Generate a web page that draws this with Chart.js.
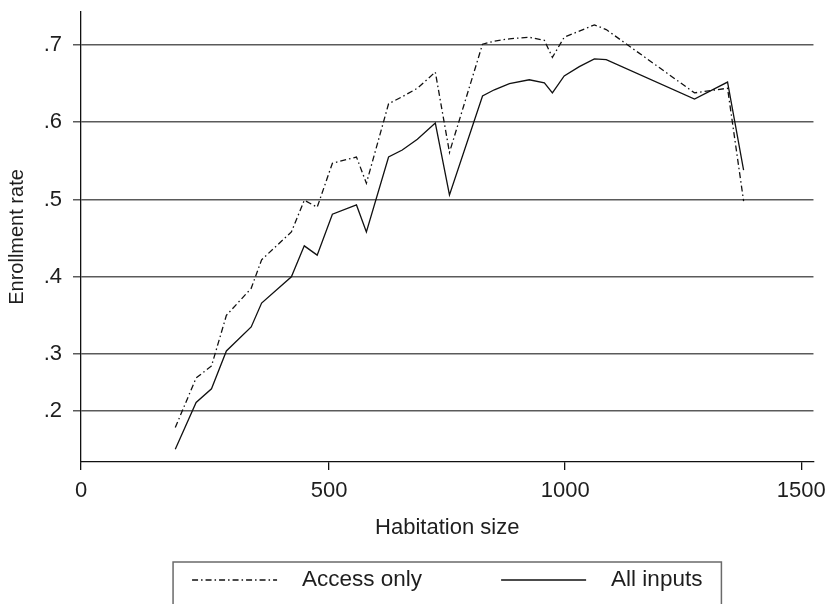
<!DOCTYPE html>
<html>
<head>
<meta charset="utf-8">
<script src="https://cdn.jsdelivr.net/npm/chart.js@4.4.1/dist/chart.umd.min.js"></script>
<style>
  html, body { margin: 0; padding: 0; background: #fff; }
  canvas { display: block; }
</style>
</head>
<body>
<canvas id="enrollChart" width="834" height="604"></canvas>
<script>
// habitation sizes where both curves are evaluated
const habitationSize = [190, 232, 263, 293, 343, 364, 424, 450, 476, 507, 558, 579, 626, 655, 687, 725, 755,
  825, 850, 882, 924, 956, 973, 998, 1030, 1062, 1087, 1274, 1344, 1378];
const accessOnly = [0.171, 0.258, 0.279, 0.350, 0.385, 0.422, 0.458, 0.499, 0.490, 0.547, 0.555, 0.521, 0.624, 0.633,
  0.644, 0.665, 0.561, 0.701, 0.705, 0.708, 0.710, 0.706, 0.684, 0.710, 0.718, 0.726, 0.720, 0.638, 0.644, 0.498];
const allInputs = [0.133, 0.215, 0.239, 0.304, 0.335, 0.366, 0.400, 0.440, 0.428, 0.481, 0.493, 0.458, 0.555, 0.564,
  0.578, 0.599, 0.506, 0.634, 0.642, 0.650, 0.655, 0.651, 0.638, 0.660, 0.672, 0.682, 0.681, 0.630, 0.652, 0.538];
const xTicks = [0, 500, 1000, 1500];
const yTicks = [0.2, 0.3, 0.4, 0.5, 0.6, 0.7];

const family = '"Liberation Sans", Arial, sans-serif';
const ink = '#1e1e1e';

// linear scale whose printed axis is stretched below a pivot value
class BentScale extends Chart.LinearScale {
  static id = 'bent';

  bend(v) {
    const { pivot, factor } = this.options.bend;
    return v >= pivot ? v : pivot - (pivot - v) * factor;
  }

  getPixelForValue(value) {
    const lo = this.bend(this.min);
    const hi = this.bend(this.max);
    return this.getPixelForDecimal((this.bend(value) - lo) / (hi - lo));
  }

  getValueForPixel(pixel) {
    const { pivot, factor } = this.options.bend;
    const lo = this.bend(this.min);
    const hi = this.bend(this.max);
    const b = lo + this.getDecimalForPixel(pixel) * (hi - lo);
    return b >= pivot ? b : pivot - (pivot - b) / factor;
  }
}
Chart.register(BentScale);

// legend drawn inside an open box under the axis title
const boxLegend = {
  id: 'boxLegend',
  afterDraw(chart, args, opts) {
    const { ctx, chartArea } = chart;
    ctx.save();
    ctx.font = `${opts.fontSize}px ${family}`;
    const items = chart.data.datasets.map(ds => ({ ds, w: ctx.measureText(ds.label).width }));
    const total = items.reduce((s, it) => s + opts.sample + opts.gap + it.w, 0) + opts.spacing * (items.length - 1);
    let x = (chartArea.left + chartArea.right) / 2 - total / 2;
    const cy = opts.top + opts.rowHeight / 2;

    ctx.strokeStyle = opts.borderColor;
    ctx.lineWidth = 1.5;
    ctx.strokeRect(x - opts.inset, opts.top, total + opts.inset * 2, chart.height);

    ctx.textBaseline = 'middle';
    ctx.fillStyle = ink;
    for (const it of items) {
      ctx.beginPath();
      ctx.setLineDash(it.ds.borderDash || []);
      ctx.strokeStyle = it.ds.borderColor;
      ctx.lineWidth = it.ds.borderWidth;
      ctx.moveTo(x, cy);
      ctx.lineTo(x + opts.sample, cy);
      ctx.stroke();
      ctx.fillText(it.ds.label, x + opts.sample + opts.gap, cy);
      x += opts.sample + opts.gap + it.w + opts.spacing;
    }
    ctx.restore();
  }
};

const ctx = document.getElementById('enrollChart').getContext('2d');
new Chart(ctx, {
  type: 'line',
  data: {
    datasets: [{
      label: 'Access only',
      data: habitationSize.map((h, i) => ({ x: h, y: accessOnly[i] })),
      borderColor: '#111',
      borderWidth: 1.3,
      borderDash: [6, 3, 1.5, 3]
    },
    {
      label: 'All inputs',
      data: habitationSize.map((h, i) => ({ x: h, y: allInputs[i] })),
      borderColor: '#111',
      borderWidth: 1.3
    }]
  },
  options: {
    responsive: false,
    animation: false,
    layout: { padding: { top: 12, right: 20, bottom: 58, left: 0 } },
    elements: { point: { radius: 0 }, line: { tension: 0 } },
    plugins: {
      legend: { display: false },
      tooltip: { enabled: false },
      boxLegend: {
        top: 562, rowHeight: 36, fontSize: 22.5,
        sample: 85, gap: 25, spacing: 79, inset: 19,
        borderColor: '#6a6a6a'
      }
    },
    scales: {
      x: {
        type: 'bent',
        bend: { pivot: 500, factor: 1.051 },
        min: 0,
        max: 1526,
        afterBuildTicks: s => { s.ticks = xTicks.map(v => ({ value: v })); },
        afterFit: s => { s.height = 84; },
        grid: { drawOnChartArea: false, tickLength: 8, color: '#111', lineWidth: 1.3 },
        border: { color: '#111', width: 1.3 },
        ticks: { color: ink, font: { family, size: 22 }, padding: 8, maxRotation: 0, autoSkip: false, callback: v => String(v) },
        title: { display: true, text: 'Habitation size', color: ink, font: { family, size: 22 }, padding: { top: 0, bottom: 5 } }
      },
      y: {
        type: 'bent',
        bend: { pivot: 0.3, factor: 0.738 },
        min: 0.1106,
        max: 0.7427,
        afterBuildTicks: s => { s.ticks = yTicks.map(v => ({ value: v })); },
        afterFit: s => {
          s.width = 81;
          s.paddingTop = 0;
          s.paddingBottom = 0;
        },
        grid: { color: '#5a5a5a', lineWidth: 1.5, tickLength: 8 },
        border: { color: '#111', width: 1.3 },
        ticks: { color: ink, font: { family, size: 22 }, padding: 11, callback: v => v.toFixed(1).replace(/^0/, '') },
        title: { display: true, text: 'Enrollment rate', color: ink, font: { family, size: 20 }, padding: { top: 5, bottom: 0 } }
      }
    }
  },
  plugins: [boxLegend]
});
</script>
</body>
</html>
